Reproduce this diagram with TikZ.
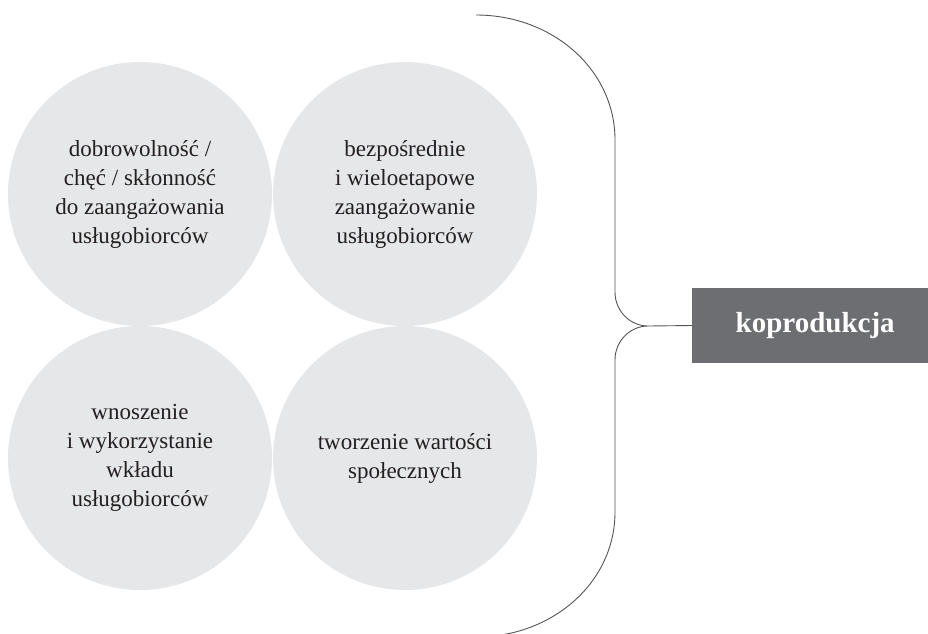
\documentclass[tikz,border=0pt]{standalone}
\usepackage{fontspec}
\setmainfont{Liberation Serif}
\definecolor{bubblefill}{HTML}{E6E7E8}
\definecolor{hubfill}{HTML}{6D6E71}
\definecolor{inkdark}{HTML}{231F20}
\definecolor{bracketline}{HTML}{555555}
\tikzset{
  bubble/.style={circle, fill=bubblefill, minimum size=264pt, inner sep=0pt,
    align=center, text=inkdark, font=\fontsize{23}{29}\selectfont},
  hub/.style={rectangle, fill=hubfill, minimum width=246pt, minimum height=75pt,
    inner sep=0pt, text=white, font=\fontsize{29}{34}\selectfont\bfseries},
  bracket/.style={draw=bracketline, line width=0.9pt}
}
\begin{document}
\begin{tikzpicture}[x=1pt,y=-1pt]
  \useasboundingbox (0,0) rectangle (928,633);

  % four feature circles
  \node[bubble] (c1) at (140,194) {dobrowolność /\\chęć / skłonność\\do zaangażowania\\usługobiorców};
  \node[bubble] (c2) at (405,194) {bezpośrednie\\i wieloetapowe\\zaangażowanie\\usługobiorców};
  \node[bubble] (c3) at (140,458) {wnoszenie\\i wykorzystanie\\wkładu\\usługobiorców};
  \node[bubble] (c4) at (405,458) {tworzenie wartości\\społecznych};

  % target box
  \node[hub, anchor=west] (k) at (692,325.5) {koprodukcja};

  % curly bracket gathering the circles
  \coordinate (tip) at (648,326);
  \coordinate (topend) at (476,15);
  \coordinate (botend) at (476,637);
  \draw[bracket] (topend) .. controls (553,15) and (615,70) .. (615,140)
    -- (615,292) .. controls (615,311) and (630,326) .. (tip)
    .. controls (630,326) and (615,341) .. (615,360)
    -- (615,512) .. controls (615,582) and (553,637) .. (botend);
  \draw[bracket] (tip) -- (k.west);
\end{tikzpicture}
\end{document}
